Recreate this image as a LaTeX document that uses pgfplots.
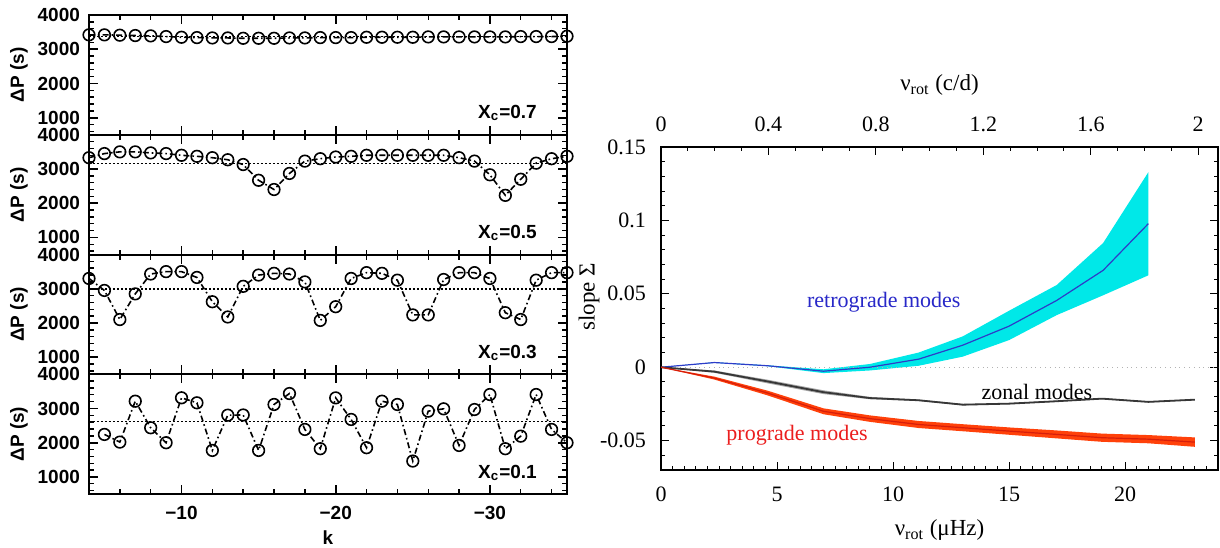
\documentclass[border=0pt]{standalone}
\usepackage{fontspec}
\setmainfont{Liberation Serif}
\newfontfamily\hv{Liberation Sans}
\usepackage{pgfplots}
\pgfplotsset{compat=1.18}
\usepgfplotslibrary{fillbetween}

\definecolor{bandcyan}{RGB}{0,232,232}
\definecolor{retroblue}{RGB}{45,60,200}
\definecolor{progred}{RGB}{255,65,10}
\definecolor{progline}{RGB}{215,30,10}
\definecolor{zonalgray}{RGB}{55,55,55}
\definecolor{retrotext}{RGB}{40,40,200}
\definecolor{progtext}{RGB}{235,30,30}

\pgfplotsset{
 leftp/.style={
  scale only axis, width=239pt, height=59.9pt,
  xmin=-35, xmax=-4, x dir=reverse, ymin=500, ymax=4000,
  xtick={-10,-20,-30}, xticklabels={}, minor xtick={-34,-32,...,-4},
  ytick={1000,2000,3000,4000}, yticklabels={1000,2000,3000,4000},
  minor ytick={600,800,...,3800},
  tick align=inside, major tick length=4.5pt, minor tick length=2.5pt,
  axis line style={line width=1pt},
  major tick style={line width=0.9pt, black},
  minor tick style={line width=0.7pt, black},
  yticklabel style={font=\hv\bfseries\fontsize{9.5}{10}\selectfont, xshift=-1pt},
  ylabel={ΔP (s)},
  every axis y label/.style={at={(axis description cs:0,0.5)}, xshift=-35pt, rotate=90, anchor=center, font=\hv\bfseries\fontsize{9.5}{10}\selectfont},
 },
 dp/.style={black, line width=0.8pt, dash pattern=on 3pt off 1.5pt on 0.8pt off 1.5pt, mark=o, mark size=2.9pt, mark options={solid, fill=white, line width=0.8pt}},
 meanl/.style={black, line width=0.6pt, dash pattern=on 0.8pt off 1.2pt},
}

\newcommand{\xc}[1]{{\hv\bfseries\fontsize{9.5}{10}\selectfont X\textsubscript{c}=#1}}

\begin{document}
\begin{tikzpicture}

% ---------- X_c = 0.7 ----------
\begin{axis}[leftp, at={(44.5pt,-7.5pt)}, anchor=north west]
\addplot[meanl] coordinates {(-4,3370) (-35,3370)};
\addplot[dp] coordinates {
(-4,3420) (-5,3420) (-6,3410) (-7,3400) (-8,3390) (-9,3370) (-10,3350) (-11,3340)
(-12,3330) (-13,3330) (-14,3320) (-15,3320) (-16,3320) (-17,3330) (-18,3330) (-19,3340)
(-20,3340) (-21,3340) (-22,3350) (-23,3350) (-24,3350) (-25,3350) (-26,3360) (-27,3360)
(-28,3360) (-29,3360) (-30,3360) (-31,3360) (-32,3370) (-33,3370) (-34,3370) (-35,3380)};
\node[anchor=east] at (axis cs:-33.5,1130) {\xc{0.7}};
\end{axis}

% ---------- X_c = 0.5 ----------
\begin{axis}[leftp, at={(44.5pt,-67.375pt)}, anchor=north west]
\addplot[meanl] coordinates {(-4,3160) (-35,3160)};
\addplot[dp] coordinates {
(-4,3330) (-5,3450) (-6,3500) (-7,3500) (-8,3470) (-9,3450) (-10,3400) (-11,3370)
(-12,3330) (-13,3270) (-14,3130) (-15,2670) (-16,2400) (-17,2870) (-18,3230) (-19,3300)
(-20,3350) (-21,3370) (-22,3400) (-23,3400) (-24,3400) (-25,3400) (-26,3400) (-27,3400)
(-28,3330) (-29,3230) (-30,2830) (-31,2230) (-32,2700) (-33,3170) (-34,3300) (-35,3370)};
\node[anchor=east] at (axis cs:-33.5,1130) {\xc{0.5}};
\end{axis}

% ---------- X_c = 0.3 ----------
\begin{axis}[leftp, at={(44.5pt,-127.25pt)}, anchor=north west]
\addplot[meanl] coordinates {(-4,2990) (-35,2990)};
\addplot[dp] coordinates {
(-4,3300) (-5,2950) (-6,2100) (-7,2850) (-8,3430) (-9,3500) (-10,3500) (-11,3330)
(-12,2620) (-13,2175) (-14,3070) (-15,3400) (-16,3450) (-17,3430) (-18,3200) (-19,2075)
(-20,2475) (-21,3300) (-22,3470) (-23,3450) (-24,3250) (-25,2235) (-26,2235) (-27,3270)
(-28,3470) (-29,3470) (-30,3300) (-31,2300) (-32,2100) (-33,3250) (-34,3470) (-35,3470)};
\node[anchor=east] at (axis cs:-33.5,1130) {\xc{0.3}};
\end{axis}

% ---------- X_c = 0.1 ----------
\begin{axis}[leftp, at={(44.5pt,-187.125pt)}, anchor=north west,
  xticklabels={−10,−20,−30},
  xticklabel style={font=\hv\bfseries\fontsize{9.5}{10}\selectfont, yshift=-2.5pt},
  xlabel={k},
  every axis x label/.style={at={(axis description cs:0.5,0)}, anchor=center, yshift=-22pt, font=\hv\bfseries\fontsize{9.5}{10}\selectfont}]
\addplot[meanl] coordinates {(-4,2630) (-35,2630)};
\addplot[dp] coordinates {
(-5,2242) (-6,2018) (-7,3213) (-8,2437) (-9,2000) (-10,3312) (-11,3166) (-12,1775)
(-13,2805) (-14,2810) (-15,1775) (-16,3117) (-17,3437) (-18,2388) (-19,1825) (-20,3310)
(-21,2680) (-22,1854) (-23,3213) (-24,3117) (-25,1464) (-26,2922) (-27,2990) (-28,1920)
(-29,2970) (-30,3408) (-31,1825) (-32,2192) (-33,3408) (-34,2388) (-35,2000)};
\node[anchor=east] at (axis cs:-33.5,1130) {\xc{0.1}};
\end{axis}

% ---------- right panel: top axis in c/d ----------
\begin{axis}[scale only axis, width=278.5pt, height=161.5pt,
  at={(330.5pt,-73.5pt)}, anchor=north west,
  xmin=0, xmax=2.07359, ymin=0, ymax=1,
  axis x line*=top, axis y line=none,
  xtick={0,0.4,0.8,1.2,1.6,2}, xticklabels={0,0.4,0.8,1.2,1.6,2},
  minor xtick={0.1,0.2,0.3,0.5,0.6,0.7,0.9,1.0,1.1,1.3,1.4,1.5,1.7,1.8,1.9},
  tick align=inside, major tick length=4pt, minor tick length=2pt,
  axis line style={line width=0.6pt}, tick style={line width=0.5pt, black},
  xticklabel style={font=\fontsize{11}{12}\selectfont, yshift=4pt},
  xlabel={ν\textsubscript{rot} (c/d)},
  every axis x label/.style={at={(axis description cs:0.5,1)}, anchor=center, yshift=31pt, font=\fontsize{11.5}{12}\selectfont}]
\addplot[draw=none] coordinates {(0,0)};
\end{axis}

% ---------- right panel: main axis ----------
\begin{axis}[scale only axis, width=278.5pt, height=161.5pt,
  at={(330.5pt,-73.5pt)}, anchor=north west,
  xmin=0, xmax=24, ymin=-0.07, ymax=0.15,
  xtick={0,5,10,15,20}, xticklabels={0,5,10,15,20}, xtick pos=left,
  minor xtick={0.5,1,...,23.5},
  ytick={-0.05,0,0.05,0.1,0.15}, yticklabels={-0.05,0,0.05,0.1,0.15}, ytick pos=both,
  minor ytick={-0.06,-0.04,-0.03,-0.02,-0.01,0.01,0.02,0.03,0.04,0.06,0.07,0.08,0.09,0.11,0.12,0.13,0.14},
  tick align=inside, major tick length=4pt, minor tick length=2pt,
  axis line style={line width=0.6pt}, tick style={line width=0.5pt, black},
  xticklabel style={font=\fontsize{11}{12}\selectfont, yshift=-5pt},
  yticklabel style={font=\fontsize{11}{12}\selectfont, xshift=-4pt},
  xlabel={ν\textsubscript{rot} (μHz)}, ylabel={slope Σ},
  every axis x label/.style={at={(axis description cs:0.5,0)}, anchor=center, yshift=-30pt, font=\fontsize{11.5}{12}\selectfont},
  every axis y label/.style={at={(axis description cs:0,0.5)}, xshift=-36pt, yshift=6pt, rotate=90, anchor=center, font=\fontsize{11.5}{12}\selectfont}]

\addplot[gray!60, line width=0.4pt, dotted] coordinates {(0,0) (24,0)};

% retrograde band
\addplot[name path=ru, draw=none] coordinates {(0,0) (2.3,0.0034) (4.6,0.0013) (7.0,-0.0014) (9.0,0.0022) (11.1,0.0100) (13.0,0.0210) (15.0,0.0385) (17.05,0.0560) (19.05,0.0846) (21.0,0.1329)};
\addplot[name path=rl, draw=none] coordinates {(0,0) (2.3,0.0030) (4.6,0.0007) (7.0,-0.0040) (9.0,-0.0022) (11.1,0.0010) (13.0,0.0072) (15.0,0.0185) (17.05,0.0355) (19.05,0.0490) (21.0,0.0626)};
\addplot[bandcyan] fill between[of=ru and rl];

% zonal band
\addplot[name path=zu, draw=none] coordinates {(0,0) (2.3,-0.0022) (4.6,-0.0085) (7.0,-0.0157) (9,-0.0202) (11.1,-0.0220) (13,-0.0250) (15,-0.0244) (17,-0.0228) (19,-0.0210) (21,-0.0232) (23,-0.0217)};
\addplot[name path=zl, draw=none] coordinates {(0,0) (2.3,-0.0038) (4.6,-0.0110) (7.0,-0.0183) (9,-0.0218) (11.1,-0.0230) (13,-0.0260) (15,-0.0252) (17,-0.0236) (19,-0.0218) (21,-0.0240) (23,-0.0225)};
\addplot[gray!70] fill between[of=zu and zl];

% prograde band
\addplot[name path=pu, draw=none] coordinates {(0,0) (2.3,-0.0064) (4.6,-0.0160) (7,-0.0280) (9,-0.0328) (11.1,-0.0366) (13,-0.0388) (15,-0.0410) (17,-0.0430) (19,-0.0452) (21,-0.0462) (23,-0.0478)};
\addplot[name path=pl, draw=none] coordinates {(0,0) (2.3,-0.0084) (4.6,-0.0192) (7,-0.0320) (9,-0.0372) (11.1,-0.0414) (13,-0.0436) (15,-0.0460) (17,-0.0484) (19,-0.0508) (21,-0.0518) (23,-0.0542)};
\addplot[progred] fill between[of=pu and pl];

% central lines
\addplot[retroblue, line width=0.6pt] coordinates {(0,0) (2.3,0.0032) (4.6,0.0010) (7.0,-0.0027) (9.0,0) (11.1,0.0055) (13.0,0.0150) (15.0,0.0280) (17.05,0.0455) (19.05,0.0660) (21.0,0.0978)};
\addplot[zonalgray, line width=0.9pt] coordinates {(0,0) (2.3,-0.0030) (4.6,-0.0097) (7.0,-0.0170) (9,-0.0210) (11.1,-0.0225) (13,-0.0255) (15,-0.0248) (17,-0.0232) (19,-0.0214) (21,-0.0236) (23,-0.0221)};
\addplot[progline, line width=0.6pt] coordinates {(0,0) (2.3,-0.0074) (4.6,-0.0176) (7,-0.0300) (9,-0.0350) (11.1,-0.0390) (13,-0.0412) (15,-0.0435) (17,-0.0457) (19,-0.0480) (21,-0.0490) (23,-0.0510)};

\node[text=retrotext, font=\fontsize{11}{12}\selectfont] at (axis cs:9.6,0.0444) {retrograde modes};
\node[text=black, font=\fontsize{11}{12}\selectfont] at (axis cs:16.2,-0.0168) {zonal modes};
\node[text=progtext, font=\fontsize{11}{12}\selectfont] at (axis cs:5.86,-0.0463) {prograde modes};
\end{axis}

\pgfresetboundingbox
\useasboundingbox (0,0) rectangle (610pt,-273.5pt);
\end{tikzpicture}
\end{document}
